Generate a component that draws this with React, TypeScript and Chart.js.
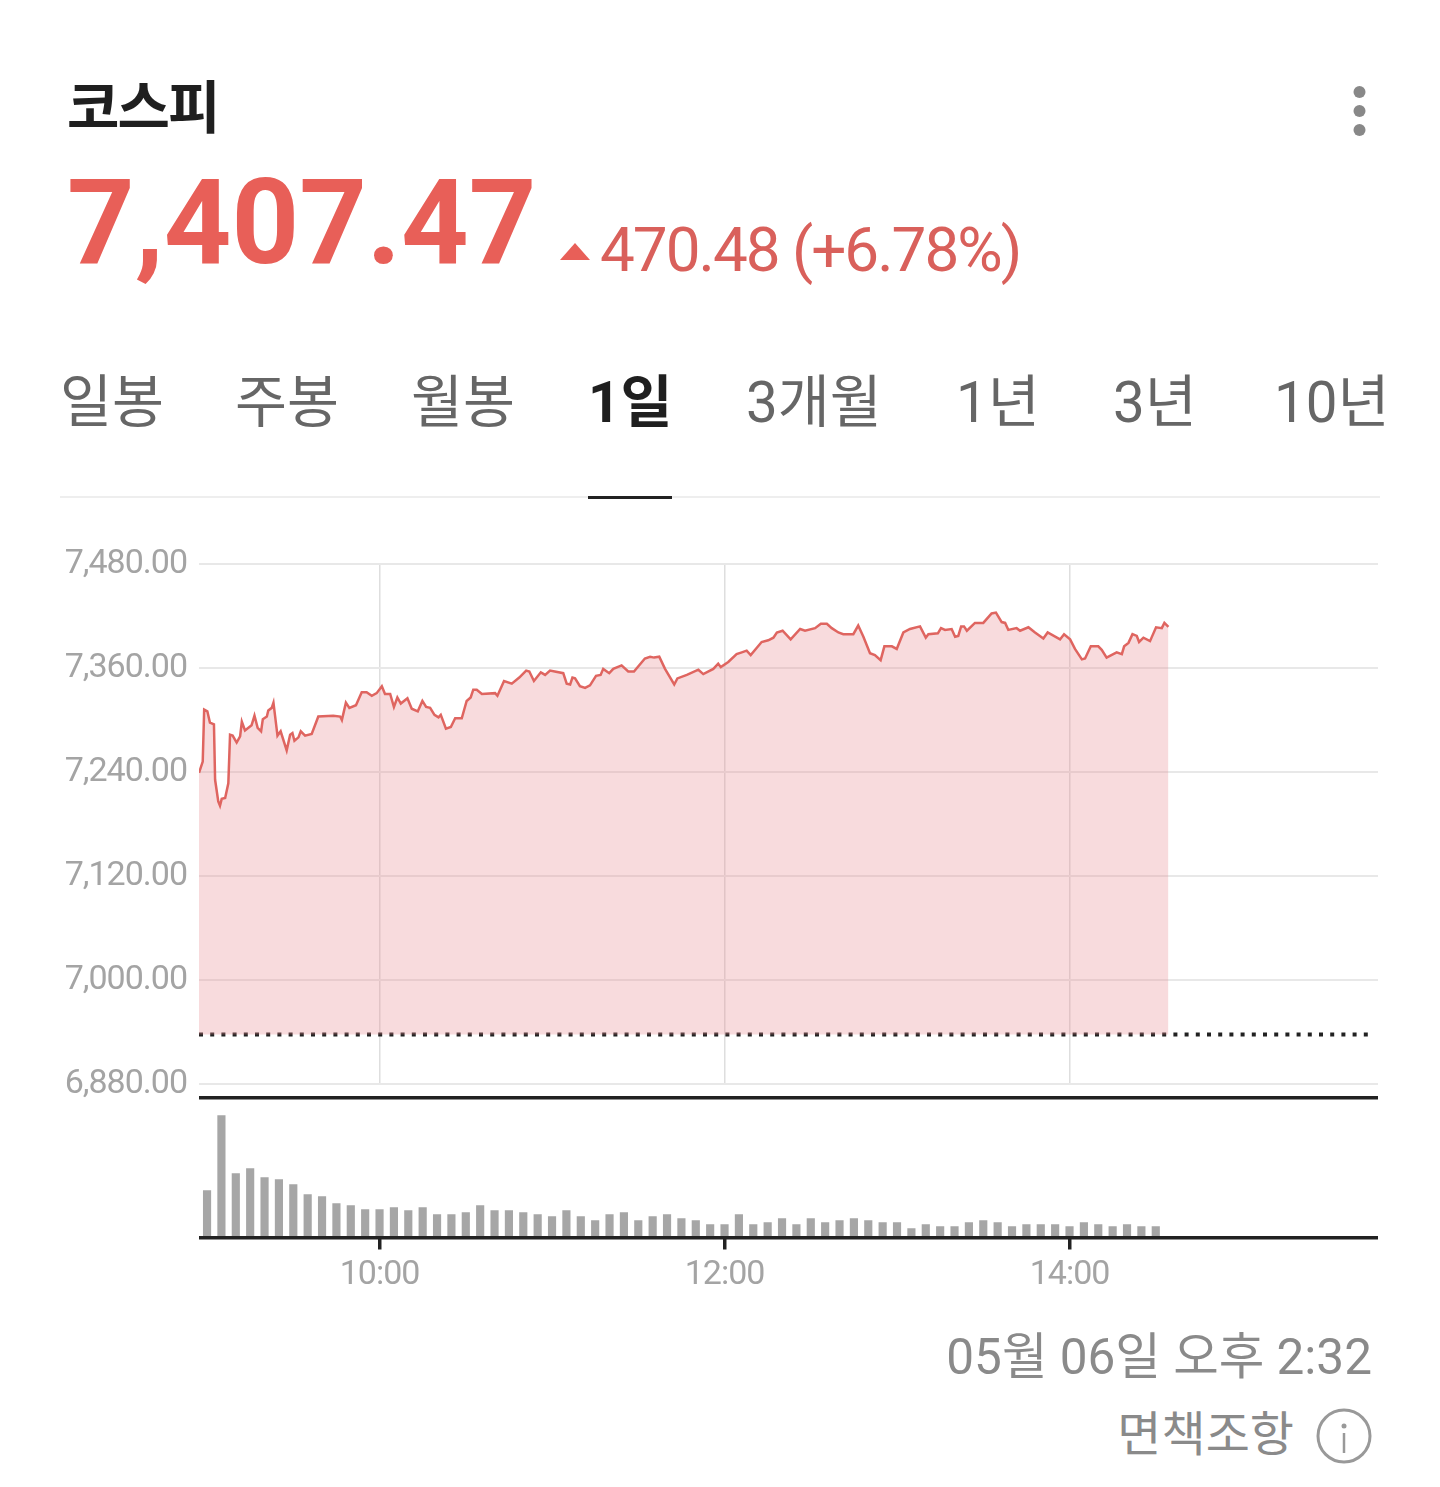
import React, { useEffect, useRef } from "react";
import { Chart, registerables } from "chart.js";

Chart.register(...registerables);

const title = "코스피";
const priceText = "7,407.47";
const changeText = "470.48 (+6.78%)";
const tabs = ["일봉", "주봉", "월봉", "1일", "3개월", "1년", "3년", "10년"];
const tabLefts = [60, 235, 411, 588, 746, 956, 1113, 1274];
const activeTab = 3;
const stampText = "05월 06일 오후 2:32";
const disclaimerText = "면책조항";

const priceTicks = [6880, 7000, 7120, 7240, 7360, 7480];
const timeTicks = [600, 720, 840];
const prevClose = 6936.99;
const axisStart = 537.2;
const axisEnd = 947.3;
const prevCloseTimes = [537.2, 946];

const lineTimes = [
  537.2, 538.5, 539, 540.1, 541, 542.4, 542.8, 543.9, 544.5, 545.1, 546.3, 547.4, 548, 548.9, 550.3, 551.5, 552.1, 553.2, 555.5, 556.5,
  557.6, 558.8, 559.4, 560.8, 561.3, 562.5, 563.1, 564.5, 565.6, 567.7, 568.9, 569.7, 570.4, 571.8, 572.6, 574.1, 576.4, 578.7, 583.9, 586.3,
  586.9, 588.3, 589.5, 591.8, 593.8, 595.5, 597.3, 599, 600.8, 601.9, 603.7, 605, 606.2, 607.4, 609.7, 611.2, 613.3, 614.9, 616.2, 617.6,
  619.1, 620.5, 621.3, 623.1, 624.8, 626.3, 628.6, 630.3, 631.7, 632.6, 633.8, 635.6, 640.2, 641, 643.3, 646, 648.6, 651, 652.1, 653.7,
  656.1, 657.6, 659.3, 663.9, 665.1, 666.3, 667.1, 668, 669.7, 671.5, 673.2, 675.3, 676.9, 677.8, 679.9, 681.3, 684.2, 686.5, 688.5, 692.3,
  694.1, 695.5, 697.3, 699.3, 702.5, 703.6, 706.9, 710.9, 712.6, 716.1, 717.8, 718.7, 721.3, 724.2, 726, 727.7, 729.1, 732.9, 735.2, 737,
  738.2, 740.2, 743, 746.3, 748, 751.5, 753.5, 755.6, 757.3, 759.6, 761.3, 764.8, 766.5, 768.3, 770.6, 772.3, 774.3, 775.6, 778.2, 779.9,
  782.2, 784.5, 788, 790, 790.9, 794.2, 795.3, 796.7, 799, 800.2, 801.3, 802.3, 803.3, 804.3, 807.1, 810, 812.9, 814.4, 816.4, 817.6,
  818.7, 821.6, 822.8, 825.7, 828, 830.9, 832.4, 836.7, 838.1, 840.2, 841.9, 844.3, 845.4, 847.4, 850, 851.2, 852.9, 856.4, 858.2, 859,
  860.5, 861.9, 863.4, 864.2, 865.7, 868, 870.1, 872.1, 873, 874.4,
];

const lineValues = [
  7239, 7252, 7312, 7310, 7297, 7295, 7231, 7206, 7201, 7209, 7210, 7227, 7283, 7282, 7274, 7281, 7298, 7288, 7294, 7305,
  7291, 7287, 7301, 7304, 7311, 7314, 7320, 7282, 7287, 7265, 7283, 7285, 7276, 7280, 7287, 7282, 7284, 7304, 7305, 7304,
  7300, 7320, 7314, 7317, 7332, 7332, 7328, 7331, 7339, 7330, 7330, 7315, 7326, 7319, 7325, 7313, 7310, 7322, 7315, 7314,
  7306, 7303, 7306, 7290, 7292, 7302, 7302, 7322, 7326, 7335, 7335, 7330, 7331, 7328, 7345, 7342, 7349, 7357, 7356, 7345,
  7355, 7352, 7357, 7354, 7342, 7341, 7349, 7348, 7339, 7337, 7340, 7351, 7352, 7359, 7354, 7359, 7363, 7356, 7356, 7371,
  7373, 7372, 7373, 7359, 7341, 7348, 7352, 7358, 7353, 7359, 7365, 7361, 7367, 7376, 7378, 7380, 7375, 7390, 7392, 7395,
  7401, 7403, 7393, 7405, 7403, 7406, 7411, 7411, 7406, 7401, 7399, 7399, 7409, 7396, 7377, 7375, 7369, 7385, 7385, 7382,
  7401, 7405, 7408, 7395, 7399, 7400, 7406, 7404, 7405, 7396, 7397, 7408, 7408, 7403, 7412, 7412, 7423, 7424, 7413, 7412,
  7404, 7406, 7403, 7407, 7401, 7394, 7401, 7393, 7399, 7393, 7382, 7370, 7371, 7385, 7385, 7381, 7372, 7378, 7376, 7385,
  7389, 7399, 7397, 7390, 7395, 7391, 7407, 7406, 7412, 7407.47,
];

const volumeTimes = [
  540, 545, 550, 555, 560, 565, 570, 575, 580, 585, 590, 595, 600, 605, 610, 615, 620, 625, 630, 635, 640, 645, 650,
  655, 660, 665, 670, 675, 680, 685, 690, 695, 700, 705, 710, 715, 720, 725, 730, 735, 740, 745, 750, 755, 760, 765,
  770, 775, 780, 785, 790, 795, 800, 805, 810, 815, 820, 825, 830, 835, 840, 845, 850, 855, 860, 865, 870,
];
const volumeValues = [
  47, 122, 64, 69, 60, 58, 53, 43, 41, 34, 32, 28, 28, 30, 27, 30, 23, 23, 25, 32, 27, 27, 25,
  23, 21, 27, 21, 17, 23, 25, 17, 21, 23, 19, 17, 13, 13, 23, 13, 15, 19, 13, 19, 15, 17, 19,
  17, 15, 15, 9, 13, 11, 11, 15, 17, 15, 11, 13, 13, 13, 11, 15, 13, 11, 13, 11, 11,
];
const volumeMax = 140;

const formatPrice = (v: number) =>
  v.toLocaleString("en-US", { minimumFractionDigits: 2, maximumFractionDigits: 2 });
const formatTime = (m: number) => `${Math.floor(m / 60)}:${String(m % 60).padStart(2, "0")}`;

const RED = "#e85f58";
const AXIS_FONT = { family: "Roboto", size: 34, weight: 400 as const };
const spacing = (px: string) => ({
  id: "spacing",
  beforeDraw: (c: any) => {
    c.ctx.letterSpacing = px;
  },
});

const LEFT = 199;
const RIGHT_PAD = 1440 - 1378;

function PriceChart() {
  const ref = useRef<HTMLCanvasElement>(null);
  useEffect(() => {
    const chart = new Chart(ref.current!, {
      type: "line",
      data: {
        datasets: [
          {
            data: lineTimes.map((x, i) => ({ x, y: lineValues[i] })),
            borderColor: "#df6560",
            borderWidth: 2.5,
            pointRadius: 0,
            tension: 0,
            fill: { value: prevClose },
            backgroundColor: "rgba(232,135,142,0.3)",
          },
          {
            data: prevCloseTimes.map((x) => ({ x, y: prevClose })),
            borderColor: "#222222",
            borderWidth: 4,
            borderDash: [4, 7.2],
            pointRadius: 0,
            fill: false,
          },
        ],
      } as any,
      options: {
        responsive: false,
        animation: false,
        events: [],
        layout: { padding: { top: 24, right: RIGHT_PAD, bottom: 16, left: 0 } },
        plugins: { legend: { display: false }, tooltip: { enabled: false } },
        scales: {
          x: {
            type: "linear",
            min: axisStart,
            max: axisEnd,
            afterBuildTicks: (s: any) => {
              s.ticks = timeTicks.map((value) => ({ value }));
            },
            afterFit: (s: any) => {
              s.height = 0;
              s.paddingLeft = 0;
              s.paddingRight = 0;
            },
            ticks: { display: false },
            border: { display: false },
            grid: { color: "#dedede", lineWidth: 1.5, drawTicks: false },
          },
          y: {
            type: "linear",
            min: 6880,
            max: 7480,
            afterBuildTicks: (s: any) => {
              s.ticks = priceTicks.map((value) => ({ value }));
            },
            afterFit: (s: any) => {
              s.width = LEFT;
              s.paddingTop = 0;
              s.paddingBottom = 0;
            },
            ticks: {
              color: "#a4a4a4",
              font: AXIS_FONT,
              padding: 12,
              labelOffset: 0,
              callback: (v: any) => formatPrice(Number(v)),
            },
            border: { display: false },
            grid: { color: "#e8e8e8", lineWidth: 2, drawTicks: false },
          },
        },
      } as any,
      plugins: [spacing("-1px")],
    });
    return () => chart.destroy();
  }, []);
  return (
    <canvas
      ref={ref}
      width={1440}
      height={560}
      style={{ position: "absolute", left: 0, top: 540, width: 1440, height: 560 }}
    />
  );
}

function VolumeChart() {
  const ref = useRef<HTMLCanvasElement>(null);
  useEffect(() => {
    const chart = new Chart(ref.current!, {
      type: "bar",
      data: {
        datasets: [
          {
            data: volumeTimes.map((x, i) => ({ x, y: volumeValues[i] })),
            backgroundColor: "#a6a6a6",
            barThickness: 7.5,
          },
        ],
      } as any,
      options: {
        responsive: false,
        animation: false,
        events: [],
        layout: { padding: { top: 7.5, right: RIGHT_PAD, bottom: 0, left: 0 } },
        plugins: { legend: { display: false }, tooltip: { enabled: false } },
        scales: {
          x: {
            type: "linear",
            offset: false,
            min: axisStart,
            max: axisEnd,
            afterBuildTicks: (s: any) => {
              s.ticks = timeTicks.map((value) => ({ value }));
            },
            afterFit: (s: any) => {
              s.height = 62.5;
              s.paddingLeft = 0;
              s.paddingRight = 0;
            },
            ticks: {
              color: "#a4a4a4",
              font: AXIS_FONT,
              padding: 6,
              maxRotation: 0,
              callback: (v: any) => formatTime(Number(v)),
            },
            border: { display: false },
            grid: {
              offset: false,
              color: "#222222",
              lineWidth: 3.5,
              drawOnChartArea: false,
              drawTicks: true,
              tickLength: 12,
            },
          },
          y: {
            type: "linear",
            min: 0,
            max: volumeMax,
            afterBuildTicks: (s: any) => {
              s.ticks = [0, volumeMax].map((value) => ({ value }));
            },
            afterFit: (s: any) => {
              s.width = LEFT;
              s.paddingTop = 0;
              s.paddingBottom = 0;
            },
            ticks: { display: false },
            border: { display: false },
            grid: { color: "#222222", lineWidth: 3.5, drawTicks: false },
          },
        },
      } as any,
      plugins: [spacing("-1px")],
    });
    return () => chart.destroy();
  }, []);
  return (
    <canvas
      ref={ref}
      width={1440}
      height={210}
      style={{ position: "absolute", left: 0, top: 1090, width: 1440, height: 210 }}
    />
  );
}

const txt = (style: React.CSSProperties): React.CSSProperties => ({
  position: "absolute",
  whiteSpace: "nowrap",
  lineHeight: 1,
  fontFamily: "Roboto, 'Noto Sans CJK KR', sans-serif",
  ...style,
});

export default function App() {
  return (
    <div
      style={{
        position: "absolute",
        left: 0,
        top: 0,
        width: 1440,
        height: 1487,
        overflow: "hidden",
        background: "#fff",
      }}
    >
      <div style={txt({ left: 67, top: 75, fontSize: 57, fontWeight: 700, color: "#1f1f1f", fontFamily: "'Noto Sans CJK KR'", letterSpacing: -2 })}>
        {title}
      </div>
      <svg width={30} height={60} style={{ position: "absolute", left: 1345, top: 82 }}>
        <circle cx={14.5} cy={10} r={6} fill="#888" />
        <circle cx={14.5} cy={29} r={6} fill="#888" />
        <circle cx={14.5} cy={48} r={6} fill="#888" />
      </svg>
      <div style={txt({ left: 67, top: 164, fontSize: 118, fontWeight: 700, color: RED })}>{priceText}</div>
      <div
        style={{
          position: "absolute",
          left: 560,
          top: 243,
          width: 30,
          height: 17,
          background: RED,
          clipPath: "polygon(50% 0, 100% 100%, 0 100%)",
        }}
      />
      <div style={txt({ left: 600, top: 219, fontSize: 62, fontWeight: 400, color: "#d9605b", letterSpacing: -2 })}>
        {changeText}
      </div>

      {tabs.map((t, i) => (
        <div
          key={t}
          style={txt({
            left: tabLefts[i],
            top: 375,
            fontSize: 56.5,
            fontWeight: i === activeTab ? 700 : 400,
            color: i === activeTab ? "#1f1f1f" : "#666",
          })}
        >
          {t}
        </div>
      ))}
      <div style={{ position: "absolute", left: 60, top: 496, width: 1320, height: 2, background: "#eeeeee" }} />
      <div style={{ position: "absolute", left: 588, top: 495.5, width: 84, height: 3, background: "#222" }} />

      <PriceChart />
      <VolumeChart />

      <div style={txt({ right: 68, top: 1333, fontSize: 49.5, color: "#8a8a8a" })}>{stampText}</div>
      <div style={txt({ right: 146, top: 1411, fontSize: 48, color: "#8a8a8a" })}>{disclaimerText}</div>
      <svg width={60} height={60} style={{ position: "absolute", left: 1314, top: 1406 }}>
        <circle cx={30} cy={30} r={26} fill="none" stroke="#999" strokeWidth={3} />
        <circle cx={30} cy={20} r={2.5} fill="#999" />
        <line x1={30} y1={27} x2={30} y2={47} stroke="#999" strokeWidth={2.5} />
      </svg>
    </div>
  );
}
